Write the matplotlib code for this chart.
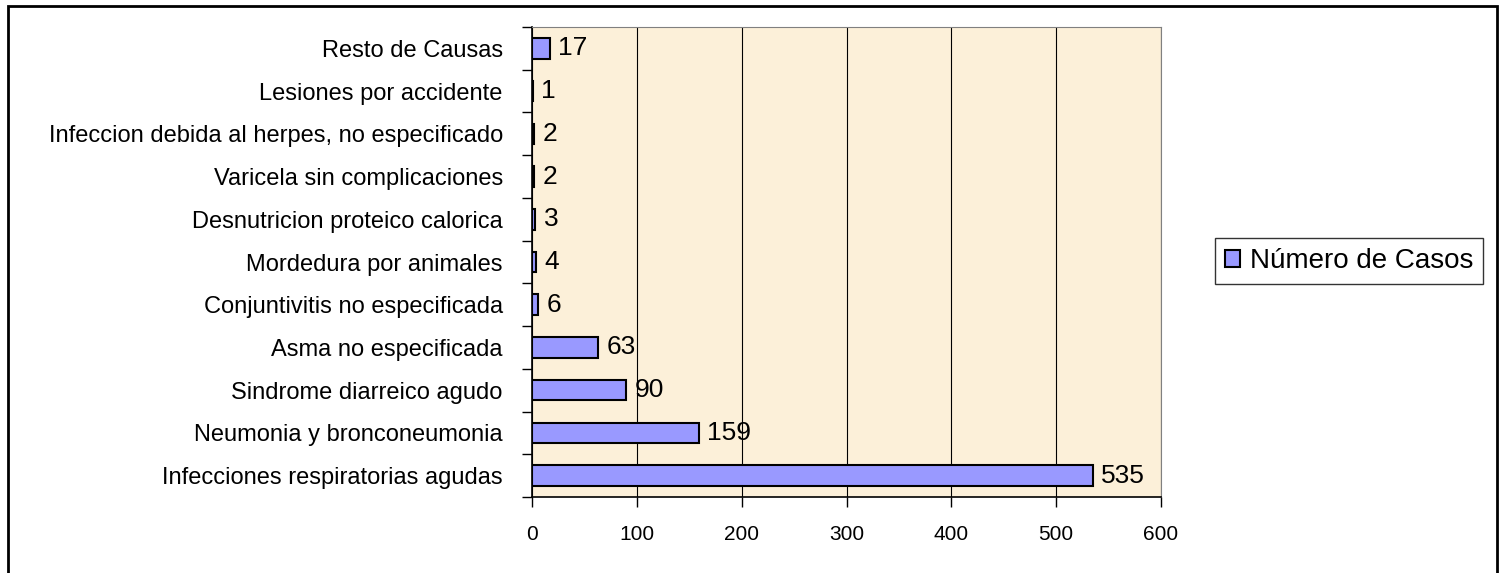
import matplotlib.pyplot as plt
from matplotlib.patches import Rectangle

plt.rcParams['font.family'] = ['Liberation Sans', 'DejaVu Sans']

# Data (bottom to top)
causas = [
    "Infecciones respiratorias agudas",
    "Neumonia y bronconeumonia",
    "Sindrome diarreico agudo",
    "Asma no especificada",
    "Conjuntivitis no especificada",
    "Mordedura por animales",
    "Desnutricion proteico calorica",
    "Varicela sin complicaciones",
    "Infeccion debida al herpes, no especificado",
    "Lesiones por accidente",
    "Resto de Causas",
]
casos = [535, 159, 90, 63, 6, 4, 3, 2, 2, 1, 17]
xticks = [0, 100, 200, 300, 400, 500, 600]

fig = plt.figure(figsize=(14.99, 5.73), dpi=100)
W, H = 1499, 573
ax = fig.add_axes([532 / W, 1 - 497 / H, (1161 - 532) / W, (497 - 27) / H])
ax.set_facecolor("#FCF0D9")

# outer chart border
fig.patches.append(Rectangle((8 / W, -0.05), (1497 - 8) / W, 1 - 6 / H + 0.05,
                             transform=fig.transFigure, fill=False,
                             edgecolor="black", linewidth=2, clip_on=False))

y = range(len(causas))
bars = ax.barh(y, casos, height=0.48, color="#9999FF", edgecolor="black",
               linewidth=1.5, label="Número de Casos", zorder=3)

for yi, v in zip(y, casos):
    ax.text(v + 8, yi, str(v), va="center", ha="left", fontsize=19, zorder=4)

ax.set_xlim(0, 600)
ax.set_ylim(-0.5, len(causas) - 0.5)
ax.set_xticks(xticks)
ax.set_xticklabels([str(t) for t in xticks], fontsize=15)
ax.set_yticks([i - 0.5 for i in range(len(causas) + 1)], minor=False)
ax.set_yticklabels([])
ax.set_yticks(list(y), minor=True)
ax.set_yticklabels(causas, minor=True, fontsize=17)
ax.tick_params(axis="y", which="minor", length=0, pad=21)
ax.tick_params(axis="y", which="major", length=7, width=1, direction="out")
ax.tick_params(axis="x", length=7, width=1, direction="out", pad=13)

ax.grid(axis="x", color="black", linewidth=0.8, zorder=1)
ax.spines["top"].set_color("#808080")
ax.spines["right"].set_color("#808080")
ax.spines["left"].set_linewidth(1.2)
ax.spines["bottom"].set_linewidth(1.2)

leg = fig.legend(handles=[bars], labels=["Número de Casos"], loc="center",
                 bbox_to_anchor=(1349 / W, 1 - 261 / H), fontsize=20,
                 frameon=True, fancybox=False, edgecolor="black",
                 handlelength=0.55, handleheight=0.55, handletextpad=0.35,
                 borderpad=0.35, borderaxespad=0)
leg.get_frame().set_linewidth(1)

fig.savefig("out.png", dpi=100)
